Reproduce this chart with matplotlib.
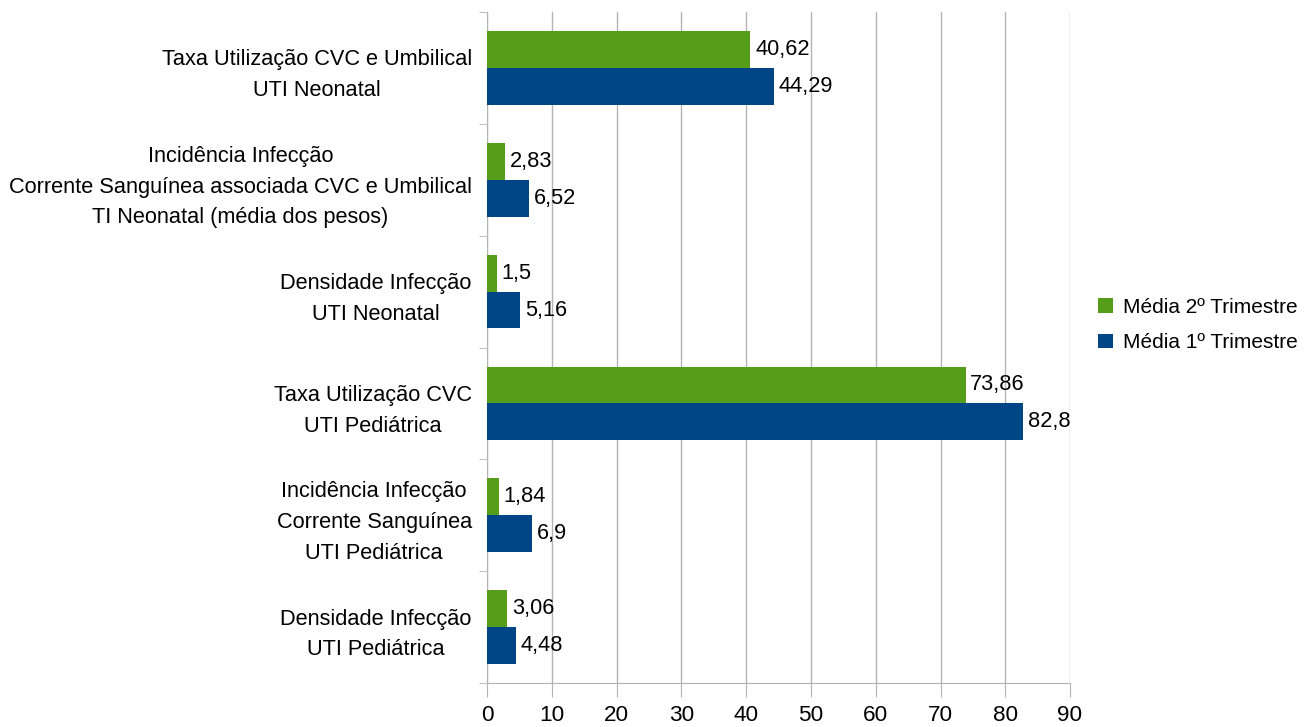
import numpy as np
import matplotlib
matplotlib.use("Agg")
import matplotlib.pyplot as plt

plt.rcParams['font.family'] = ['Liberation Sans Narrow', 'Liberation Sans', 'DejaVu Sans']

# Data (top to bottom as shown)
categories = [
    "Taxa Utilização CVC e Umbilical\nUTI Neonatal",
    "Incidência Infecção\nCorrente Sanguínea associada CVC e Umbilical\nTI Neonatal (média dos pesos)",
    "Densidade Infecção\nUTI Neonatal",
    "Taxa Utilização CVC\nUTI Pediátrica",
    "Incidência Infecção\nCorrente Sanguínea\nUTI Pediátrica",
    "Densidade Infecção\nUTI Pediátrica",
]
media_2_tri = [40.62, 2.83, 1.5, 73.86, 1.84, 3.06]
media_1_tri = [44.29, 6.52, 5.16, 82.8, 6.9, 4.48]
series_names = ["Média 2º Trimestre", "Média 1º Trimestre"]

green = "#579d1c"
blue = "#004586"
fs = 15.7

fig = plt.figure(figsize=(13.04, 7.27), dpi=100)
ax = fig.add_axes([0.3735, 0.0605, 0.4471, 0.923])

y = np.arange(len(categories))
h = 0.33

b2 = ax.barh(y - h / 2, media_2_tri, height=h, color=green, label=series_names[0], zorder=3)
b1 = ax.barh(y + h / 2, media_1_tri, height=h, color=blue, label=series_names[1], zorder=3)

def fmt(v):
    return f"{v:g}".replace(".", ",")

for bars, vals in [(b2, media_2_tri), (b1, media_1_tri)]:
    ax.bar_label(bars, labels=[fmt(v) for v in vals], padding=3.5, fontsize=fs, zorder=4)

ax.set_ylim(len(categories) - 0.5, -0.5)
ax.set_xlim(0, 90)
ax.set_xticks(np.arange(0, 91, 10))
ax.tick_params(axis='x', labelsize=fs + 0.5, length=10, color='#b3b3b3', pad=6)

# category labels in the middle, tick marks on boundaries
ax.set_yticks(y)
ax.set_yticklabels(categories, fontsize=fs, ha='right', multialignment='center',
                   linespacing=1.6)
ax.tick_params(axis='y', which='major', length=0, pad=11)
ax.set_yticks(np.arange(-0.5, len(categories), 1), minor=True)
ax.tick_params(axis='y', which='minor', length=6, color='#b3b3b3')

ax.grid(axis='x', color='#b3b3b3', linewidth=1, zorder=0)
for s in ['top', 'right']:
    ax.spines[s].set_visible(False)
for s in ['left', 'bottom']:
    ax.spines[s].set_color('#b3b3b3')

fig.legend(handles=[b2, b1], loc='center left', bbox_to_anchor=(0.831, 0.553),
           frameon=False, fontsize=15, handlelength=0.7, handleheight=0.7,
           handletextpad=0.5, labelspacing=0.8, borderaxespad=0.3)

fig.savefig("out.png", dpi=100)
